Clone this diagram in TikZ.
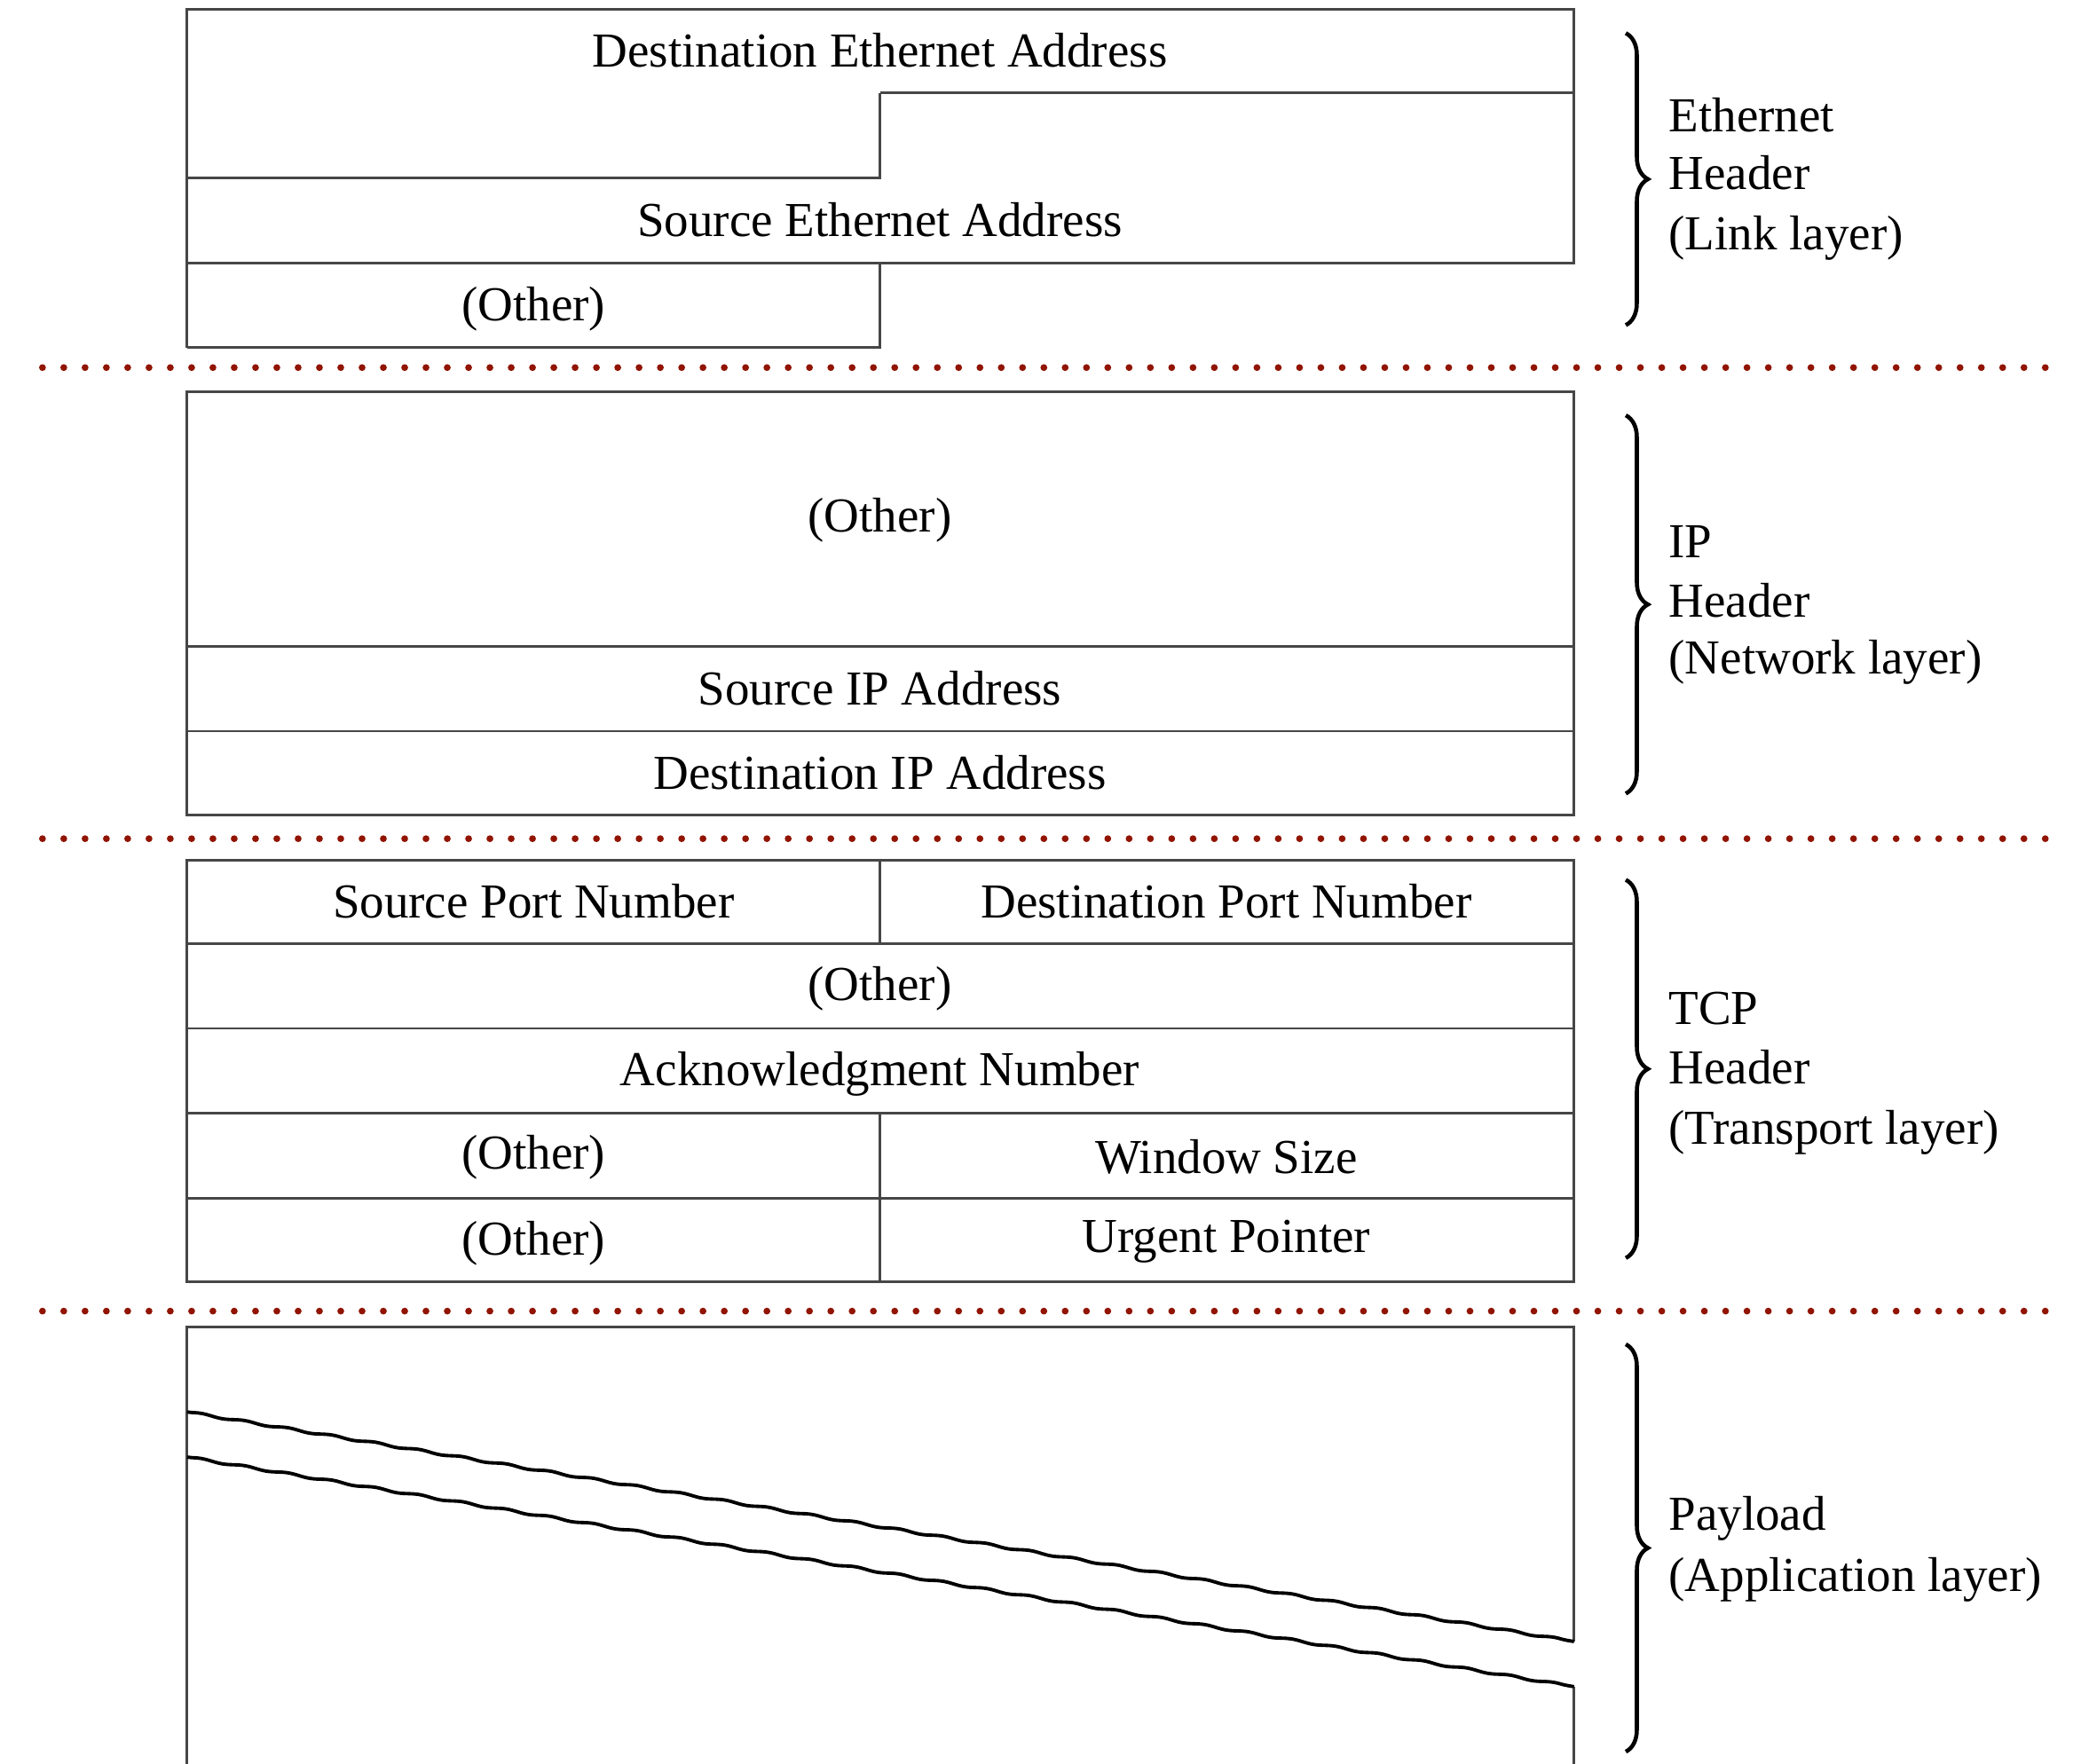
\documentclass[tikz,border=0pt]{standalone}
\usepackage{fontspec}
\setmainfont{Liberation Serif}
\usetikzlibrary{decorations.pathreplacing,decorations.pathmorphing}
\definecolor{sepred}{RGB}{145,20,0}
\definecolor{framegray}{RGB}{70,70,70}
\begin{document}
\begin{tikzpicture}[x=0.015cm,y=-0.015cm,
  frame/.style={draw=framegray, line width=0.8pt},
  lbl/.style={font=\fontsize{15.7}{19}\selectfont, inner sep=0pt, anchor=base},
  side/.style={font=\fontsize{15.7}{19}\selectfont, inner sep=0pt, anchor=base west},
  sepline/.style={draw=sepred, line width=2.2pt, dash pattern=on 0pt off 0.24080cm, line cap=round},
  bracestyle/.style={draw=black, line width=1.3pt, decorate, decoration={brace, amplitude=0.25cm}},
  wave/.style={draw=black, line width=1.1pt, decorate, decoration={snake, amplitude=0.3pt, segment length=0.5cm}}]
\useasboundingbox (0,0) rectangle (1568,1329);

% ---------- Ethernet header ----------
\draw[frame] (141,262) -- (141,7) -- (1186,7) -- (1186,198) -- (141,198);
\draw[frame] (663,70) -- (1186,70);
\draw[frame] (141,134) -- (663,134) -- (663,70);
\draw[frame] (663,198) -- (663,262) -- (141,262);
\node[lbl] (dstEth) at (663,50.5) {Destination Ethernet Address};
\node[lbl] (srcEth) at (663,178) {Source Ethernet Address};
\node[lbl] (ethOther) at (402,242) {(Other)};

\draw[sepline] (32,277) -- (1541.2,277);

% ---------- IP header ----------
\draw[frame] (141,295) rectangle (1186,614);
\draw[frame] (141,487) -- (1186,487);
\draw[frame] (141,551) -- (1186,551);
\node[lbl] (ipOther) at (663,401) {(Other)};
\node[lbl] (srcIP) at (663,531) {Source IP Address};
\node[lbl] (dstIP) at (663,594.5) {Destination IP Address};

\draw[sepline] (32,632) -- (1541.2,632);

% ---------- TCP header ----------
\draw[frame] (141,648) rectangle (1186,966);
\draw[frame] (141,711) -- (1186,711);
\draw[frame] (141,775) -- (1186,775);
\draw[frame] (141,839) -- (1186,839);
\draw[frame] (141,903) -- (1186,903);
\draw[frame] (663,648) -- (663,711);
\draw[frame] (663,839) -- (663,966);
\node[lbl] (srcPort) at (402,691.5) {Source Port Number};
\node[lbl] (dstPort) at (924,691.5) {Destination Port Number};
\node[lbl] (tcpOther1) at (663,754) {(Other)};
\node[lbl] (ack) at (663,818) {Acknowledgment Number};
\node[lbl] (tcpOther2) at (402,881) {(Other)};
\node[lbl] (win) at (924,884) {Window Size};
\node[lbl] (tcpOther3) at (402,946) {(Other)};
\node[lbl] (urg) at (924,944) {Urgent Pointer};

\draw[sepline] (32,988) -- (1541.2,988);

% ---------- Payload ----------
\draw[frame] (141,1329) -- (141,1000) -- (1186,1000) -- (1186,1237);
\draw[frame] (1186,1271) -- (1186,1329);
\draw[wave] (141,1064) -- (1186,1237);
\draw[wave] (141,1098) -- (1186,1271);

% ---------- Braces and labels ----------
\draw[bracestyle] (1225,25) -- (1225,245);
\draw[bracestyle] (1225,313) -- (1225,598);
\draw[bracestyle] (1225,663) -- (1225,948);
\draw[bracestyle] (1225,1013) -- (1225,1320);

\node[side] (ethL1) at (1257,99) {Ethernet};
\node[side] (ethL2) at (1257,143) {Header};
\node[side] (ethL3) at (1257,188) {(Link layer)};
\node[side] (ipL1) at (1257,420) {IP};
\node[side] (ipL2) at (1257,465) {Header};
\node[side] (ipL3) at (1257,508) {(Network layer)};
\node[side] (tcpL1) at (1257,772) {TCP};
\node[side] (tcpL2) at (1257,817) {Header};
\node[side] (tcpL3) at (1257,862) {(Transport layer)};
\node[side] (payL1) at (1257,1153) {Payload};
\node[side] (payL2) at (1257,1199) {(Application layer)};
\end{tikzpicture}
\end{document}
